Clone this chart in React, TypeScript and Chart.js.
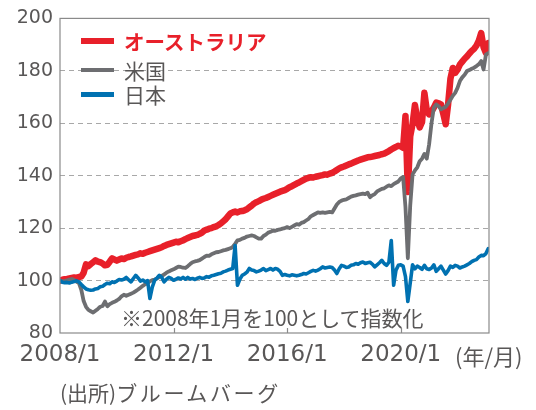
import React, { useEffect, useRef } from "react";
import { Chart, registerables } from "chart.js";

Chart.register(...registerables);

// Monthly index, 2008/1 = 100 (index 0 = 2008/1)
const xTickMonths = [0, 48, 96, 144];
const xTickLabels = ["2008/1", "2012/1", "2016/1", "2020/1"];
const yMin = 80;
const yMax = 200;
const yStep = 20;
const seriesNames = ["オーストラリア", "米国", "日本"];
const seriesColors = ["#e8202a", "#6d6e71", "#0071b1"];

const australia = [
  100.0, 100.3, 100.5, 100.6, 100.8, 101.0, 101.2, 101.0, 101.4, 101.5, 103.0, 106.2,
  105.5, 106.3, 107.0, 107.7, 107.2, 107.0, 106.5, 105.8, 106.0, 107.2, 108.5, 108.0,
  107.6, 108.0, 108.4, 108.2, 108.7, 109.0, 109.2, 109.5, 109.8, 110.0, 110.4, 110.2,
  110.6, 110.9, 111.2, 111.5, 111.8, 112.1, 112.4, 112.7, 113.2, 113.6, 113.9, 114.2,
  114.5, 114.8, 114.6, 115.0, 115.3, 115.8, 116.2, 116.6, 117.0, 117.2, 117.4, 117.8,
  118.3, 119.1, 119.4, 119.8, 120.0, 120.4, 120.7, 121.2, 121.8, 122.6, 123.4, 124.5,
  125.6, 126.0, 126.3, 126.0, 126.4, 126.5, 126.8, 127.2, 127.9, 128.6, 129.4, 129.9,
  130.3, 130.8, 131.2, 131.5, 131.9, 132.3, 132.7, 133.1, 133.5, 133.9, 134.2, 134.5,
  135.0, 135.6, 136.0, 136.5, 137.0, 137.4, 137.9, 138.4, 138.9, 139.2, 139.4, 139.3,
  139.6, 139.8, 140.0, 140.2, 140.5, 140.4, 140.8, 141.1, 141.6, 142.2, 142.8, 143.2,
  143.5, 143.9, 144.3, 144.6, 145.0, 145.4, 145.8, 146.1, 146.4, 146.7, 147.0, 147.1,
  147.3, 147.5, 147.7, 147.9, 148.2, 148.4, 148.9, 149.4, 150.0, 150.5, 151.0, 151.4,
  151.2, 150.6, 162.8, 133.8, 155.0, 159.8, 167.0, 161.5, 158.4, 160.5, 171.6, 165.0,
  163.4, 164.5, 166.0, 167.9, 167.6, 167.2, 163.5, 159.6, 167.0, 177.0, 181.1, 179.2,
  180.5, 182.4, 183.5, 184.6, 185.5, 186.6, 187.6, 188.4, 189.6, 191.5, 194.4, 189.0,
  186.8, 190.6,
];

const usa = [
  100.0, 99.8, 99.9, 100.1, 100.4, 100.6, 100.2, 99.6, 99.0, 96.5, 92.2, 90.0,
  88.8, 88.3, 87.8, 88.5, 89.2, 90.0, 90.3, 92.0, 90.2, 91.0, 91.5, 91.9,
  92.4, 93.0, 94.0, 94.6, 94.2, 94.6, 95.0, 95.4, 96.0, 96.6, 97.3, 98.0,
  98.6, 99.0, 99.7, 100.2, 100.4, 100.8, 101.4, 101.8, 102.3, 103.0, 103.5, 103.9,
  104.3, 104.8, 105.3, 105.2, 104.9, 104.8, 105.5, 106.3, 107.0, 107.3, 107.5, 107.8,
  108.4, 109.0, 109.5, 109.4, 110.0, 110.4, 110.8, 110.9, 111.2, 111.5, 111.7, 112.0,
  112.3, 112.8, 114.0, 115.3, 115.5, 116.0, 116.3, 116.8, 117.0, 117.2, 117.0, 116.5,
  116.0, 116.0, 117.0, 117.5, 118.3, 118.6, 119.1, 119.0, 119.3, 119.5, 119.8, 120.0,
  120.4, 120.0, 120.5, 121.0, 121.5, 121.3, 122.0, 122.3, 122.9, 123.5, 124.5, 125.0,
  125.5, 126.0, 125.8, 126.0, 125.8, 126.0, 126.2, 126.0, 127.5, 129.0, 130.0, 130.5,
  130.8, 131.0, 131.5, 132.0, 132.3, 132.5, 132.8, 133.0, 133.2, 133.0, 133.5, 131.8,
  132.5, 133.0, 134.0, 134.5, 135.0, 135.2, 135.8, 136.3, 136.0, 136.8, 137.3, 137.8,
  139.0, 139.5, 128.0, 108.5, 128.5, 140.5, 142.0, 143.2, 145.5, 146.5, 148.3, 146.5,
  152.0, 160.0, 166.0, 167.2, 166.5, 165.3, 165.8, 166.3, 167.5, 169.0, 170.5, 171.6,
  173.5, 176.1, 177.5, 178.5, 179.9, 180.3, 180.8, 181.2, 181.8, 182.5, 183.7, 180.5,
  186.2, 186.8,
];

const japan = [
  100.0, 99.4, 99.2, 99.3, 99.1, 99.4, 99.6, 99.9, 99.5, 98.5, 97.6, 96.8,
  96.5, 96.3, 96.4, 96.8, 97.0, 97.6, 97.8, 98.5, 99.0, 98.8, 99.5, 99.3,
  99.8, 100.4, 100.2, 100.5, 101.2, 100.3, 99.5, 100.8, 102.0, 101.0, 99.8, 100.2,
  99.5, 100.0, 93.2, 97.5, 100.1, 101.0, 102.0, 101.2, 99.5, 100.5, 101.2, 100.8,
  100.1, 100.5, 101.0, 100.6, 101.2, 100.5, 101.2, 100.6, 100.8, 100.4, 100.9, 101.2,
  100.8, 101.0, 101.5, 101.3, 101.8, 102.0, 102.3, 102.6, 102.8, 103.3, 103.6, 104.0,
  104.3, 104.6, 113.4, 98.2, 100.5, 102.0, 102.5, 103.2, 104.6, 104.0, 103.8, 103.3,
  103.6, 104.0, 104.6, 103.8, 104.2, 104.6, 104.0, 104.6, 104.3, 103.5, 102.0, 102.3,
  102.0, 101.8, 102.2, 102.0, 101.8, 102.0, 102.3, 102.7, 102.5, 103.0, 103.5, 103.9,
  103.6, 104.0, 104.5, 105.2, 104.8, 105.0, 105.2, 105.0, 104.0, 102.7, 104.5, 105.8,
  105.5, 105.0, 105.2, 105.8, 106.0, 106.5, 106.2, 106.8, 107.1, 106.5, 106.8, 107.0,
  106.3, 105.2, 106.0, 106.8, 107.7, 106.5, 105.8, 107.0, 115.3, 98.2, 104.0, 105.8,
  106.0, 105.5, 101.5, 92.0, 99.0, 106.0, 104.5, 105.5, 105.0, 104.3, 105.8, 104.5,
  104.2, 104.8, 106.0, 103.5, 104.5, 105.5, 104.0, 102.5, 103.8, 105.5, 105.0, 105.8,
  105.5, 104.8, 105.2, 105.5, 106.0, 106.5, 107.2, 107.7, 108.0, 109.0, 109.6, 109.5,
  110.3, 112.2,
];

const TEXT = "#595757";
const NUM_FONT = "'DejaVu Sans', sans-serif";
const JP_FONT = "'Noto Sans CJK JP', sans-serif";

const toPoints = (arr: number[]) => arr.map((y, i) => ({ x: i, y }));

const framePlugin = {
  id: "frame",
  afterDraw(chart: any) {
    const { ctx, chartArea } = chart;
    const xs = chart.scales.x;
    ctx.save();
    ctx.strokeStyle = "#8a8a8a";
    ctx.lineWidth = 1.2;
    ctx.strokeRect(chartArea.left, chartArea.top, chartArea.right - chartArea.left, chartArea.bottom - chartArea.top);
    ctx.beginPath();
    xTickMonths.slice(1).forEach((m) => {
      const px = Math.round(xs.getPixelForValue(m)) + 0.5;
      ctx.moveTo(px, chartArea.bottom);
      ctx.lineTo(px, chartArea.bottom - 5);
    });
    ctx.stroke();
    ctx.restore();
  },
};

export default function App() {
  const ref = useRef<HTMLCanvasElement>(null);

  useEffect(() => {
    if (!ref.current) return;
    const all = [australia, usa, japan];
    const widths = [6.5, 3.8, 3.6];
    const orders = [3, 2, 1];
    const chart = new Chart(ref.current, {
      type: "line",
      data: {
        datasets: all.map((arr, i) => ({
          label: seriesNames[i],
          data: toPoints(arr),
          borderColor: seriesColors[i],
          backgroundColor: seriesColors[i],
          borderWidth: widths[i],
          pointRadius: 0,
          tension: 0,
          borderJoinStyle: "round" as const,
          borderCapStyle: "round" as const,
          order: orders[i],
        })),
      },
      options: {
        animation: false,
        responsive: true,
        maintainAspectRatio: false,
        layout: { padding: { top: 17, right: 47, left: 0, bottom: 0 } },
        plugins: { legend: { display: false }, tooltip: { enabled: false } },
        scales: {
          x: {
            type: "linear",
            min: 0,
            max: 181.3,
            border: { display: false },
            grid: { display: false, drawTicks: false },
            afterBuildTicks: (s: any) => {
              s.ticks = xTickMonths.map((v) => ({ value: v }));
            },
            afterFit: (s: any) => {
              s.height = 77;
            },
            ticks: {
              autoSkip: false,
              maxRotation: 0,
              padding: 8,
              color: TEXT,
              font: { family: NUM_FONT, size: 23 },
              callback: (v: any) => {
                const i = xTickMonths.indexOf(Number(v));
                return i >= 0 ? xTickLabels[i] : "";
              },
            },
          },
          y: {
            min: yMin,
            max: yMax,
            border: { display: false, dash: [5, 4] },
            afterFit: (s: any) => {
              s.width = 60;
            },
            grid: {
              drawTicks: false,
              lineWidth: 1,
              color: (c: any) =>
                c.tick && (c.tick.value === yMin || c.tick.value === yMax) ? "rgba(0,0,0,0)" : "#a8a8a8",
            },
            ticks: {
              stepSize: yStep,
              padding: 7,
              color: TEXT,
              font: { family: NUM_FONT, size: 19 },
            },
          },
        },
      },
      plugins: [framePlugin],
    });
    return () => chart.destroy();
  }, []);

  const legendRows = [
    { top: 41, h: 6.5, bold: true, color: seriesColors[0], size: 20.5 },
    { top: 70, h: 4.5, bold: false, color: TEXT, size: 21 },
    { top: 94.5, h: 4.5, bold: false, color: TEXT, size: 21 },
  ];

  return (
    <div style={{ position: "fixed", left: 0, top: 0, width: 536, height: 410, background: "#fff" }}>
      <canvas ref={ref} width={536} height={410} />
      {legendRows.map((r, i) => (
        <React.Fragment key={i}>
          <div
            style={{
              position: "absolute",
              left: 81,
              top: r.top - r.h / 2,
              width: 33,
              height: r.h,
              background: seriesColors[i],
            }}
          />
          <div
            style={{
              position: "absolute",
              left: 124,
              top: r.top - r.size / 2,
              fontFamily: JP_FONT,
              fontSize: r.size,
              lineHeight: `${r.size}px`,
              fontWeight: r.bold ? 700 : 400,
              color: r.color,
              whiteSpace: "nowrap",
            }}
          >
            {seriesNames[i]}
          </div>
        </React.Fragment>
      ))}
      <div
        style={{
          position: "absolute",
          left: 121,
          top: 306.5,
          fontFamily: JP_FONT,
          fontSize: 21,
          lineHeight: "21px",
          color: TEXT,
          whiteSpace: "nowrap",
        }}
      >
        ※2008年1月を100として指数化
      </div>
      <div
        style={{
          position: "absolute",
          left: 455,
          top: 344,
          fontFamily: JP_FONT,
          fontSize: 22,
          lineHeight: "22px",
          color: TEXT,
          whiteSpace: "nowrap",
        }}
      >
        (年/月)
      </div>
      <div
        style={{
          position: "absolute",
          left: 60,
          top: 381.5,
          fontFamily: JP_FONT,
          fontSize: 21,
          lineHeight: "21px",
          color: TEXT,
          whiteSpace: "nowrap",
        }}
      >
        (出所)<span style={{ letterSpacing: "2.6px" }}>ブルームバーグ</span>
      </div>
    </div>
  );
}
